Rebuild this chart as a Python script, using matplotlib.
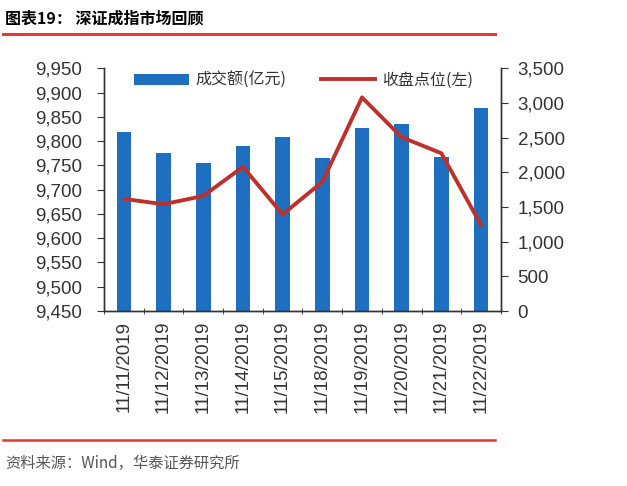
import matplotlib
matplotlib.use("Agg")
import matplotlib.pyplot as plt
from matplotlib.ticker import FuncFormatter, FixedLocator
from matplotlib.patches import Patch
from matplotlib.lines import Line2D
import numpy as np

plt.rcParams['font.family'] = ['Liberation Sans', 'Noto Sans CJK SC', 'DejaVu Sans']

dates = ['11/11/2019', '11/12/2019', '11/13/2019', '11/14/2019', '11/15/2019',
         '11/18/2019', '11/19/2019', '11/20/2019', '11/21/2019', '11/22/2019']
turnover = [2586, 2283, 2134, 2379, 2505, 2211, 2643, 2697, 2225, 2923]  # 成交额(亿元)
close = [9681, 9670, 9687, 9747, 9649, 9716, 9890, 9808, 9775, 9627]     # 收盘点位

bar_color = '#1F6FC0'
line_color = '#C0302A'
red = '#E8392F'
cjk = ['Noto Sans CJK SC', 'DejaVu Sans']

fig = plt.figure(figsize=(6.27, 4.86), dpi=100)
ax = fig.add_axes([0.1659, 0.360, 0.633, 0.4995])
ax2 = ax.twinx()

x = np.arange(len(dates))
ax2.bar(x, turnover, width=0.37, color=bar_color, zorder=2)
ax.plot(x, close, color=line_color, linewidth=2.8, solid_capstyle='round', zorder=3)

ax.set_zorder(ax2.get_zorder() + 1)
ax.patch.set_visible(False)

ax.set_xlim(-0.5, len(dates) - 0.5)
ax.set_ylim(9450, 9950)
ax.set_yticks(np.arange(9450, 9951, 50))
ax2.set_ylim(0, 3500)
ax2.set_yticks(np.arange(0, 3501, 500))

fmt = FuncFormatter(lambda v, p: f'{int(v):,}')
ax.yaxis.set_major_formatter(fmt)
ax2.yaxis.set_major_formatter(fmt)

ax.set_xticks(x)
ax.set_xticklabels(dates, rotation=90, fontsize=13.5, color='#333333')
ax.tick_params(axis='x', which='major', length=0, pad=7)
ax.xaxis.set_minor_locator(FixedLocator(np.arange(-0.5, len(dates), 1.0)))
ax.tick_params(axis='x', which='minor', length=5, direction='inout', color='#333333')

ax.tick_params(axis='y', labelsize=13.5, labelcolor='#333333', length=5, color='#333333', pad=11)
ax2.tick_params(axis='y', labelsize=13.5, labelcolor='#333333', length=5, color='#333333', pad=7)

for a in (ax, ax2):
    a.spines['top'].set_visible(False)
    for s in ('left', 'right', 'bottom'):
        a.spines[s].set_color('#333333')
        a.spines[s].set_linewidth(1.0)

handles = [Patch(facecolor=bar_color, edgecolor='none'),
           Line2D([0], [0], color=line_color, linewidth=2.8)]
leg = ax.legend(handles, ['成交额(亿元)', '收盘点位(左)'], loc='upper left',
                bbox_to_anchor=(0.04, 1.045), ncol=2, frameon=False,
                prop={'family': cjk, 'size': 11.5}, handlelength=3.4,
                handleheight=0.7, columnspacing=2.2, handletextpad=0.4)
for t in leg.get_texts():
    t.set_color('#333333')

# header and footer
fig.text(0.008, 0.962, '图表19： 深证成指市场回顾', fontsize=11.5, fontweight='bold',
         family=cjk, ha='left', va='center', color='black')
fig.add_artist(Line2D([0.005, 0.79], [0.930, 0.930], color=red, linewidth=2.2))
fig.add_artist(Line2D([0.005, 0.79], [0.094, 0.094], color=red, linewidth=1.8))
fig.text(0.008, 0.047, '资料来源：Wind，华泰证券研究所', fontsize=11, family=cjk,
         ha='left', va='center', color='#555555')

fig.savefig('out.png', dpi=100)
